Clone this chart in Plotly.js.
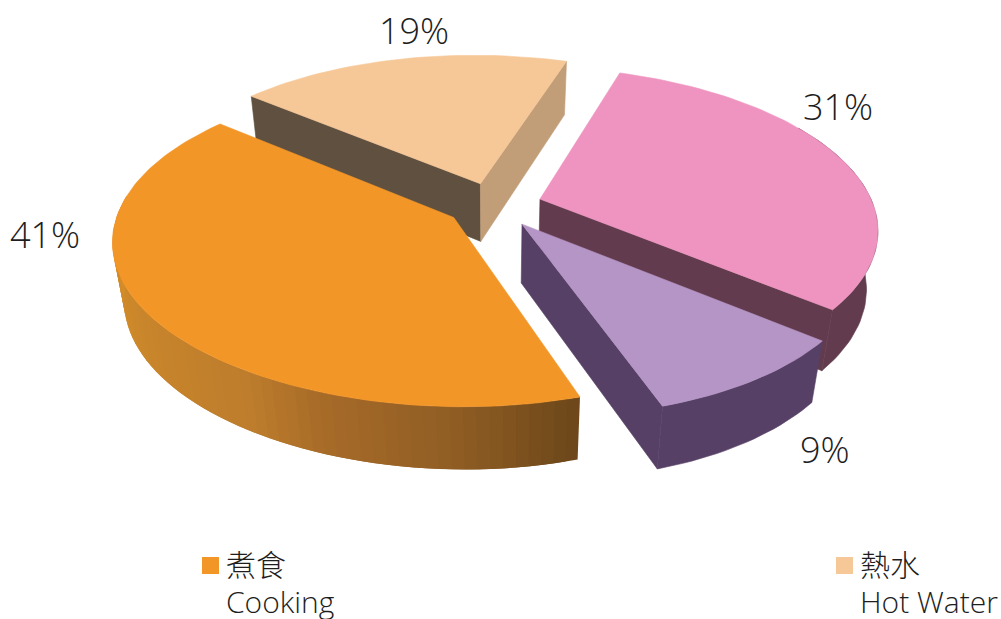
<!DOCTYPE html>
<html><head><meta charset="utf-8">
<script src="https://cdn.plot.ly/plotly-3.0.1.min.js"></script>
<style>html,body{margin:0;padding:0;background:#fff;overflow:hidden}</style>
</head><body><div id="chart" style="width:1001px;height:619px"></div>
<script>
(function(){
// Data (clockwise order from the first slice)
const shares = [31, 9, 41, 19];
const legendZh = ['煮食','熱水'];
const legendEn = ['Cooking','Hot Water'];

// Styles
const topColors  = ['#ef94c0','#b595c6','#f39628','#f6c797'];
const wallColors = ['#623c4e','#574066','#b5752c','#c29e78'];
const peachInnerWall = '#5f5040';
const legendColors = ['#f39628','#f6c797'];
const textColor = '#1e1e1e';
const FONT = '"Open Sans","Noto Sans CJK TC",sans-serif';

// Projection of the exploded pie
const CX=494, CY=205, S=333, SQ=155, K=0.158, PULL=0.145, H=60, M=0.03, START=18.9, SHEAR=8, FRONT_SHEAR=8;
const rad = d => d*Math.PI/180;
function project(X,Y,bottom){
  const w = 1-K*Y+(bottom?M:0);
  const shift = SHEAR*Y + FRONT_SHEAR*Math.pow(Math.max(0,Y),3);
  return [CX+S*X/w+shift, CY+SQ*Y/w+(bottom?H/w:0)];
}
let acc = START;
const slices = shares.map((v,i)=>{
  const total = shares.reduce((a,b)=>a+b,0);
  const a0 = acc, a1 = acc + v/total*360; acc = a1;
  const mid = rad((a0+a1)/2);
  return {i,a0,a1,px:PULL*Math.sin(mid),py:-PULL*Math.cos(mid)};
});
function rim(s,a,b){ const t=rad(a); return project(s.px+Math.sin(t),s.py-Math.cos(t),b); }
function apex(s,b){ return project(s.px,s.py,b); }
function poly(pts,color,lw){
  const xs=pts.map(p=>p[0]).concat(pts[0][0]), ys=pts.map(p=>p[1]).concat(pts[0][1]);
  return {x:xs,y:ys,mode:'lines',fill:'toself',fillcolor:color,
    line:{color:color,width:lw===undefined?0.6:lw},hoverinfo:'skip',showlegend:false,type:'scatter'};
}
function arcPts(s,a,b,bottom){
  const n=Math.max(2,Math.ceil(Math.abs(b-a)/1.5)),out=[];
  for(let j=0;j<=n;j++) out.push(rim(s,a+(b-a)*j/n,bottom));
  return out;
}
function topFace(s){ return poly([apex(s,false)].concat(arcPts(s,s.a0,s.a1,false)),topColors[s.i]); }
function edgeWall(s,a,color){ return poly([apex(s,false),rim(s,a,false),rim(s,a,true),apex(s,true)],color); }
function outerWall(s,a,b,color,lw){
  return poly(arcPts(s,a,b,false).concat(arcPts(s,b,a,true)),color,lw);
}
const gradStops=[[0,[108,70,25]],[0.16,[143,93,36]],[0.32,[166,106,40]],[0.44,[189,125,44]],[0.78,[208,138,42]],[1,[216,142,40]]];
function gradColor(t){
  for(let j=1;j<gradStops.length;j++){
    if(t<=gradStops[j][0]){
      const a=gradStops[j-1],b=gradStops[j],u=(t-a[0])/(b[0]-a[0]);
      const c=a[1].map((v,k)=>Math.round(v+(b[1][k]-v)*u));
      return 'rgb('+c.join(',')+')';
    }
  }
  return 'rgb(216,142,40)';
}
const [pink,purple,orange,peach]=slices;
const traces=[];
// peach (farthest)
traces.push(edgeWall(peach,peach.a0,peachInnerWall));
traces.push(edgeWall(peach,peach.a1,wallColors[3]));
traces.push(topFace(peach));
// pink
traces.push(outerWall(pink,60,pink.a1,wallColors[0]));
traces.push(edgeWall(pink,pink.a1,wallColors[0]));
traces.push(topFace(pink));
// purple
traces.push(outerWall(purple,purple.a0,purple.a1,wallColors[1]));
traces.push(edgeWall(purple,purple.a1,wallColors[1]));
traces.push(topFace(purple));
// orange with shaded rim: each band runs under the next one so no seams show
const rimEnd=278, steps=60, band=(rimEnd-orange.a0)/steps;
for(let j=0;j<steps;j++){
  const a=orange.a0+band*j, b=Math.min(rimEnd,a+band*2);
  traces.push(outerWall(orange,a,b,gradColor((j+0.5)/steps),0));
}
traces.push(topFace(orange));
// legend swatches
const legendPos=[[210.5,565.5],[844.5,565.5]];
legendZh.forEach((_,i)=>traces.push({type:'scatter',mode:'markers',x:[legendPos[i][0]],y:[legendPos[i][1]],
  marker:{symbol:'square',size:17,color:legendColors[i],line:{width:0}},hoverinfo:'skip',showlegend:false}));

// Text
const labelPos=[[838,106],[825,449],[45,234],[414,30]];
const ann=shares.map((v,i)=>({x:labelPos[i][0],y:labelPos[i][1],text:v+'%',showarrow:false,xanchor:'center',yanchor:'middle',
  font:{family:FONT,size:36,weight:300,color:textColor}}));
legendZh.forEach((t,i)=>{
  ann.push({x:legendPos[i][0]+13,y:582.5,
    text:'<span style="font-size:30px">'+t+'</span><br><span style="font-size:30px">'+legendEn[i]+'</span>',
    showarrow:false,xanchor:'left',yanchor:'middle',align:'left',
    font:{family:FONT,size:28.5,weight:300,color:textColor}});
});
const layout={width:1001,height:619,margin:{l:0,r:0,t:0,b:0,pad:0},paper_bgcolor:'#fff',plot_bgcolor:'#fff',
  showlegend:false,hovermode:false,annotations:ann,
  xaxis:{range:[0,1001],visible:false,fixedrange:true},
  yaxis:{range:[619,0],visible:false,fixedrange:true}};
Plotly.newPlot('chart',traces,layout,{displayModeBar:false,staticPlot:true});
})();
</script></body></html>
